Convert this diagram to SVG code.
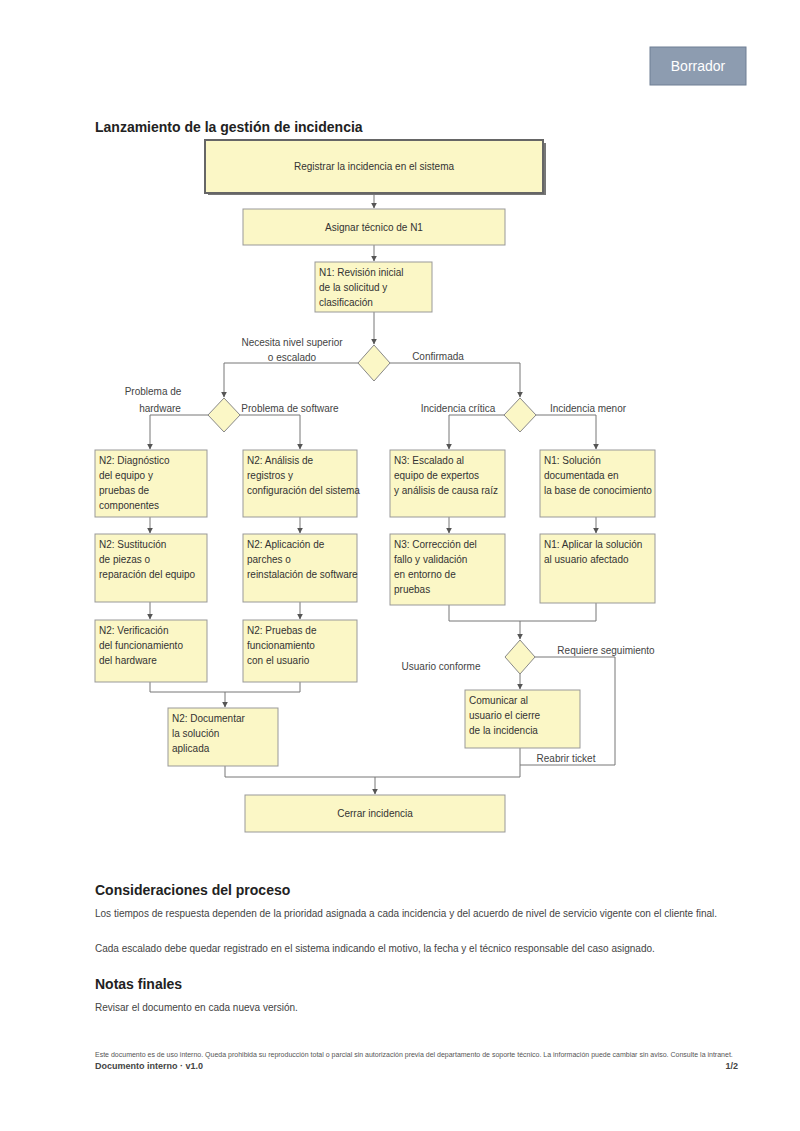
<svg xmlns="http://www.w3.org/2000/svg" width="800" height="1131" viewBox="0 0 800 1131">
<style>
text{font-family:"Liberation Sans",Arial,sans-serif;fill:#333}
.box{fill:#fbf7c6;stroke:#999;stroke-width:1}
.dia{fill:#fbf7c6;stroke:#888;stroke-width:1}
.t{font-size:10px}
.c{text-anchor:middle}
.lbl{font-size:10px;fill:#444}
.conn{fill:none;stroke:#777;stroke-width:1}
.h1{font-size:14px;font-weight:bold;fill:#222}
.p{font-size:10px;fill:#444}
</style>
<defs>
<marker id="arr" viewBox="0 0 10 10" refX="9" refY="5" markerWidth="6" markerHeight="6" orient="auto-start-reverse">
<path d="M0,0 L10,5 L0,10 z" fill="#555"/>
</marker>
</defs>
<rect width="800" height="1131" fill="#fff"/>

<g id="badge">
<rect x="650" y="47" width="96" height="38" fill="#8d9cb0" stroke="#6f7f94"/>
<text x="698" y="71" class="c" style="font-size:14px;fill:#fff">Borrador</text>
</g>

<text x="95" y="132" class="h1">Lanzamiento de la gestión de incidencia</text>

<g id="connectors">
<path class="conn" d="M374,194 V208" marker-end="url(#arr)"/>
<path class="conn" d="M374,245 V261" marker-end="url(#arr)"/>
<path class="conn" d="M374,312 V344" marker-end="url(#arr)"/>
<path class="conn" d="M358,363 H224 V397" marker-end="url(#arr)"/>
<path class="conn" d="M390,363 H520 V397" marker-end="url(#arr)"/>
<path class="conn" d="M208,415 H150 V449" marker-end="url(#arr)"/>
<path class="conn" d="M240,415 H300 V449" marker-end="url(#arr)"/>
<path class="conn" d="M504,415 H449 V449" marker-end="url(#arr)"/>
<path class="conn" d="M536,415 H596 V449" marker-end="url(#arr)"/>
<path class="conn" d="M150,517 V533" marker-end="url(#arr)"/>
<path class="conn" d="M150,602 V619" marker-end="url(#arr)"/>
<path class="conn" d="M300,517 V533" marker-end="url(#arr)"/>
<path class="conn" d="M300,602 V619" marker-end="url(#arr)"/>
<path class="conn" d="M449,517 V533" marker-end="url(#arr)"/>
<path class="conn" d="M596,517 V533" marker-end="url(#arr)"/>
<path class="conn" d="M150,682 V692 H300 V682"/>
<path class="conn" d="M225,692 V707" marker-end="url(#arr)"/>
<path class="conn" d="M449,605 V621 H596 V603"/>
<path class="conn" d="M520,621 V639" marker-end="url(#arr)"/>
<path class="conn" d="M520,674 V689" marker-end="url(#arr)"/>
<path class="conn" d="M535,657 H615 V765 H520"/>
<path class="conn" d="M225,766 V777 H520 V748"/>
<path class="conn" d="M375,777 V794" marker-end="url(#arr)"/>
<text x="292" y="346" class="lbl c">Necesita nivel superior</text>
<text x="292" y="361" class="lbl c">o escalado</text>
<text x="438" y="360" class="lbl c">Confirmada</text>
<text x="153" y="395" class="lbl c">Problema de</text>
<text x="160" y="412" class="lbl c">hardware</text>
<text x="290" y="412" class="lbl c">Problema de software</text>
<text x="458" y="412" class="lbl c">Incidencia crítica</text>
<text x="588" y="412" class="lbl c">Incidencia menor</text>
<text x="441" y="670" class="lbl c">Usuario conforme</text>
<text x="606" y="654" class="lbl c">Requiere seguimiento</text>
<text x="566" y="762" class="lbl c">Reabrir ticket</text>
</g>

<g id="n-start">
<rect x="208" y="143" width="338" height="52" fill="#777"/>
<rect x="205" y="140" width="338" height="53" fill="#fbf7c6" stroke="#666" stroke-width="2"/>
<text x="374" y="170" class="t c">Registrar la incidencia en el sistema</text>
</g>
<g id="n-assign">
<rect class="box" x="243" y="209" width="262" height="36"/>
<text x="374" y="231" class="t c">Asignar técnico de N1</text>
</g>
<g id="n-review">
<rect class="box" x="315" y="262" width="117" height="50"/>
<text x="319" y="276" class="t">N1: Revisión inicial</text>
<text x="319" y="291" class="t">de la solicitud y</text>
<text x="319" y="306" class="t">clasificación</text>
</g>
<g id="d-level">
<polygon class="dia" points="374,345 390,363 374,381 358,363"/>
</g>
<g id="d-type">
<polygon class="dia" points="224,398 240,415 224,432 208,415"/>
</g>
<g id="d-severity">
<polygon class="dia" points="520,398 536,415 520,432 504,415"/>
</g>

<g id="n-hw1">
<rect class="box" x="95" y="450" width="112" height="67"/>
<text x="99" y="464" class="t">N2: Diagnóstico</text>
<text x="99" y="479" class="t">del equipo y</text>
<text x="99" y="494" class="t">pruebas de</text>
<text x="99" y="509" class="t">componentes</text>
</g>
<g id="n-hw2">
<rect class="box" x="95" y="534" width="112" height="68"/>
<text x="99" y="548" class="t">N2: Sustitución</text>
<text x="99" y="563" class="t">de piezas o</text>
<text x="99" y="578" class="t">reparación del equipo</text>
</g>
<g id="n-hw3">
<rect class="box" x="95" y="620" width="112" height="62"/>
<text x="99" y="634" class="t">N2: Verificación</text>
<text x="99" y="649" class="t">del funcionamiento</text>
<text x="99" y="664" class="t">del hardware</text>
</g>
<g id="n-sw1">
<rect class="box" x="243" y="450" width="114" height="67"/>
<text x="247" y="464" class="t">N2: Análisis de</text>
<text x="247" y="479" class="t">registros y</text>
<text x="247" y="494" class="t">configuración del sistema</text>
</g>
<g id="n-sw2">
<rect class="box" x="243" y="534" width="114" height="68"/>
<text x="247" y="548" class="t">N2: Aplicación de</text>
<text x="247" y="563" class="t">parches o</text>
<text x="247" y="578" class="t">reinstalación de software</text>
</g>
<g id="n-sw3">
<rect class="box" x="243" y="620" width="114" height="62"/>
<text x="247" y="634" class="t">N2: Pruebas de</text>
<text x="247" y="649" class="t">funcionamiento</text>
<text x="247" y="664" class="t">con el usuario</text>
</g>
<g id="n-doc">
<rect class="box" x="168" y="708" width="110" height="58"/>
<text x="172" y="722" class="t">N2: Documentar</text>
<text x="172" y="737" class="t">la solución</text>
<text x="172" y="752" class="t">aplicada</text>
</g>

<g id="n-crit1">
<rect class="box" x="390" y="450" width="115" height="67"/>
<text x="394" y="464" class="t">N3: Escalado al</text>
<text x="394" y="479" class="t">equipo de expertos</text>
<text x="394" y="494" class="t">y análisis de causa raíz</text>
</g>
<g id="n-crit2">
<rect class="box" x="390" y="534" width="115" height="71"/>
<text x="394" y="548" class="t">N3: Corrección del</text>
<text x="394" y="563" class="t">fallo y validación</text>
<text x="394" y="578" class="t">en entorno de</text>
<text x="394" y="593" class="t">pruebas</text>
</g>
<g id="n-min1">
<rect class="box" x="540" y="450" width="115" height="67"/>
<text x="544" y="464" class="t">N1: Solución</text>
<text x="544" y="479" class="t">documentada en</text>
<text x="544" y="494" class="t">la base de conocimiento</text>
</g>
<g id="n-min2">
<rect class="box" x="540" y="534" width="115" height="69"/>
<text x="544" y="548" class="t">N1: Aplicar la solución</text>
<text x="544" y="563" class="t">al usuario afectado</text>
</g>
<g id="d-confirm">
<polygon class="dia" points="520,640 535,657 520,674 505,657"/>
</g>
<g id="n-notify">
<rect class="box" x="465" y="690" width="115" height="58"/>
<text x="469" y="704" class="t">Comunicar al</text>
<text x="469" y="719" class="t">usuario el cierre</text>
<text x="469" y="734" class="t">de la incidencia</text>
</g>
<g id="n-end">
<rect class="box" x="245" y="795" width="260" height="37"/>
<text x="375" y="817" class="t c">Cerrar incidencia</text>
</g>

<text x="95" y="895" class="h1">Consideraciones del proceso</text>
<text x="95" y="917" class="p">Los tiempos de respuesta dependen de la prioridad asignada a cada incidencia y del acuerdo de nivel de servicio vigente con el cliente final.</text>
<text x="95" y="952" class="p">Cada escalado debe quedar registrado en el sistema indicando el motivo, la fecha y el técnico responsable del caso asignado.</text>
<text x="95" y="989" class="h1">Notas finales</text>
<text x="95" y="1011" class="p">Revisar el documento en cada nueva versión.</text>

<text x="95" y="1057" style="font-size:7px;fill:#555">Este documento es de uso interno. Queda prohibida su reproducción total o parcial sin autorización previa del departamento de soporte técnico. La información puede cambiar sin aviso. Consulte la intranet.</text>
<text x="95" y="1069" style="font-size:9px;font-weight:bold;fill:#444">Documento interno · v1.0</text>
<text x="738" y="1069" style="font-size:9px;font-weight:bold;fill:#444;text-anchor:end">1/2</text>
</svg>
